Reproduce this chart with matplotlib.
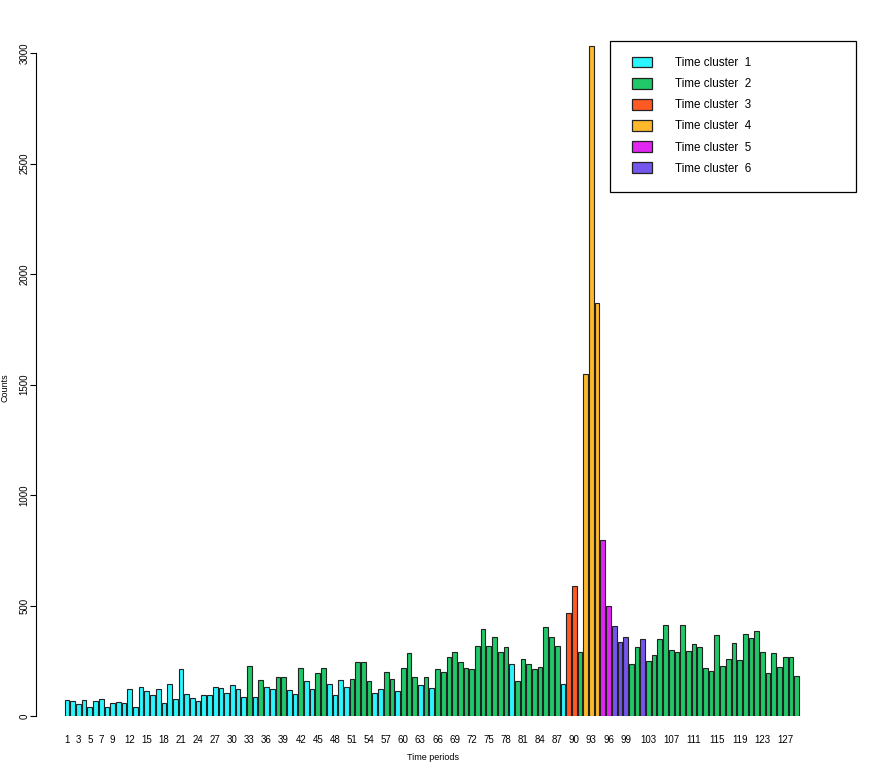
import numpy as np
import matplotlib
matplotlib.use("Agg")
import matplotlib.pyplot as plt
from matplotlib.patches import Patch, Rectangle

plt.rcParams['font.family'] = ['Liberation Sans', 'DejaVu Sans']

# counts per time period (1..129)
counts = [72, 66, 53, 74, 39, 66, 77, 41, 57, 62,
          57, 121, 41, 130, 115, 97, 121, 57, 145, 78,
          211, 98, 80, 68, 93, 95, 130, 125, 104, 139,
          121, 87, 226, 84, 163, 130, 124, 175, 175, 118,
          98, 216, 158, 122, 193, 219, 146, 93, 163, 130,
          166, 244, 244, 160, 103, 121, 198, 166, 112, 216,
          285, 175, 140, 178, 128, 211, 200, 265, 291, 244,
          216, 213, 317, 392, 317, 356, 291, 311, 234, 157,
          256, 234, 211, 223, 403, 357, 315, 146, 464, 590,
          291, 1546, 3030, 1870, 796, 500, 405, 335, 359, 234,
          312, 348, 249, 274, 347, 412, 297, 288, 412, 294,
          324, 314, 217, 204, 365, 225, 256, 330, 252, 369,
          354, 383, 291, 193, 283, 220, 265, 268, 179]

# time cluster of each period
cluster = [1] * 32 + [2, 1, 2, 1, 1, 2, 2, 1, 1, 2,
                      1, 1, 2, 2, 1, 1, 1, 1, 2, 2,
                      2, 2, 1, 1, 2, 2, 1, 2, 2, 2,
                      1, 2, 1, 2, 2, 2, 2, 2, 2, 2,
                      2, 2, 2, 2, 2, 2, 1, 2, 2, 2,
                      2, 2, 2, 2, 2, 1, 3, 3, 2, 4,
                      4, 4, 5, 5, 6, 6, 6, 2, 2, 6] + [2] * 27

cluster_names = ["Time cluster  %d" % k for k in range(1, 7)]
cluster_colors = ["#2BF6FF", "#20C868", "#FF5A24", "#FDB82B", "#E126F2", "#7456EC"]

tick_labels = [1, 3, 5, 7, 9, 12, 15, 18, 21, 24, 27, 30, 33, 36, 39, 42, 45, 48,
               51, 54, 57, 60, 63, 66, 69, 72, 75, 78, 81, 84, 87, 90, 93, 96, 99,
               103, 107, 111, 115, 119, 123, 127]

W, H = 870, 770
fig = plt.figure(figsize=(W / 100, H / 100), dpi=100)
ax = fig.add_axes([36 / W, (H - 716) / H, 829 / W, (716 - 30.9) / H])

x = np.arange(len(counts))
colors = [cluster_colors[c - 1] for c in cluster]
ax.bar(x, counts, width=0.83, color=colors, edgecolor="#222222", linewidth=0.8)

ax.set_xlim(-5.44, 140)
ax.set_ylim(0, 3100)

for s in ["top", "right", "bottom"]:
    ax.spines[s].set_visible(False)
ax.spines["left"].set_bounds(0, 3000)
ax.spines["left"].set_linewidth(0.8)

ax.set_yticks([0, 500, 1000, 1500, 2000, 2500, 3000])
ax.set_yticklabels(["0", "500", "1000", "1500", "2000", "2500", "3000"],
                   rotation=90, va="center", fontsize=7)
ax.tick_params(axis="y", length=4.5, width=0.8, pad=0)

ax.set_xticks([t - 1 for t in tick_labels])
ax.set_xticklabels([str(t) for t in tick_labels], fontsize=7)
ax.tick_params(axis="x", length=0, pad=14)

fig.text(433 / W, 1 - 757 / H, "Time periods", ha="center", va="center", fontsize=6.5)
fig.text(5 / W, 1 - 388 / H, "Counts", ha="center", va="center", rotation=90, fontsize=6.5)

# legend box
fig.patches.append(Rectangle((610 / W, 1 - 192 / H), 246 / W, 151 / H,
                             transform=fig.transFigure, facecolor="white",
                             edgecolor="black", linewidth=0.9, zorder=5))
handles = [Patch(facecolor=c, edgecolor="#222222", linewidth=0.9) for c in cluster_colors]
leg = fig.legend(handles, cluster_names, loc="upper left",
                 bbox_to_anchor=(632 / W, 1 - 57 / H), bbox_transform=fig.transFigure,
                 frameon=False, fontsize=8.4, borderpad=0, borderaxespad=0,
                 handlelength=1.72, handleheight=1.0, handletextpad=1.95,
                 labelspacing=0.76)
leg.set_zorder(6)

fig.savefig("out.png", dpi=100)
